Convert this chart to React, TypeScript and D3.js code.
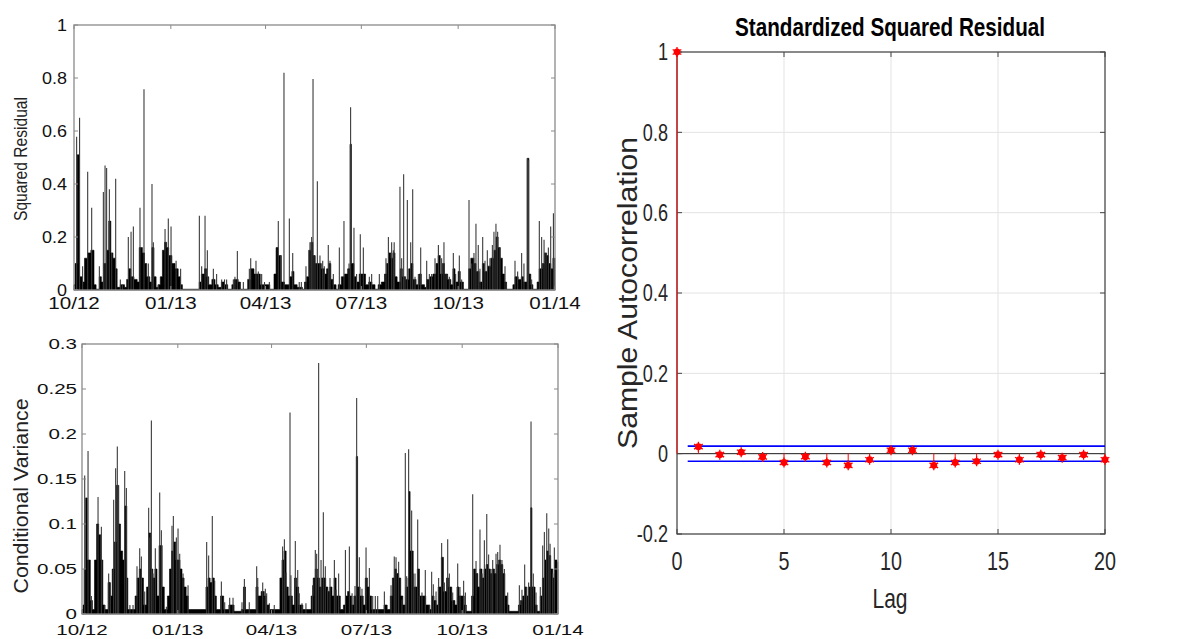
import React from 'react';
import * as d3 from 'd3';

type Pt = [number, number];

const START = new Date(2012, 9, 1);
const END = new Date(2014, 0, 1);
const quarterTicks = [
  new Date(2012, 9, 1), new Date(2013, 0, 1), new Date(2013, 3, 1),
  new Date(2013, 6, 1), new Date(2013, 9, 1), new Date(2014, 0, 1),
];

const sqResidTicks = [0, 0.2, 0.4, 0.6, 0.8, 1];
const sqResidTickLabels = ['0', '0.2', '0.4', '0.6', '0.8', '1'];
const condVarTicks = [0, 0.05, 0.1, 0.15, 0.2, 0.25, 0.3];
const condVarTickLabels = ['0', '0.05', '0.1', '0.15', '0.2', '0.25', '0.3'];

// dense "body" of the squared residual series: [day since 2012-10-01, value]
const sqResidBody: Pt[] = [
  [0, 0.02], [1, 0.1], [3, 0.51], [5, 0.05], [8, 0.03], [10, 0.12], [13, 0.14], [16, 0.15], [19, 0.02], [21, 0.003],
  [24, 0.05], [26, 0.03], [28, 0.1], [31, 0.15], [33, 0.26], [35, 0.14], [37, 0.12], [39, 0.08], [41, 0.01], [44, 0.02],
  [48, 0.01], [50, 0.04], [52, 0.08], [54, 0.05], [57, 0.04], [60, 0.03], [62, 0.16], [65, 0.14], [67, 0.1], [69, 0.05],
  [72, 0.03], [74, 0.16], [76, 0.05], [78, 0.01], [80, 0.02], [82, 0.05], [84, 0.15], [86, 0.18], [88, 0.16], [90, 0.13],
  [93, 0.1], [96, 0.08], [99, 0.05], [101, 0.02], [103, 0.003], [119, 0.03], [121, 0.06], [124, 0.08], [126, 0.05], [128, 0.02],
  [131, 0.04], [134, 0.02], [137, 0.01], [140, 0.03], [143, 0.02], [146, 0.003], [150, 0.02], [152, 0.04], [156, 0.03], [158, 0.003],
  [165, 0.04], [168, 0.08], [171, 0.06], [174, 0.06], [177, 0.02], [180, 0.02], [186, 0.003], [190, 0.06], [192, 0.16], [194, 0.13],
  [197, 0.03], [200, 0.02], [203, 0.02], [205, 0.05], [207, 0.07], [209, 0.02], [212, 0.01], [217, 0.003], [219, 0.03], [221, 0.05],
  [223, 0.15], [225, 0.18], [227, 0.13], [229, 0.1], [232, 0.1], [235, 0.08], [238, 0.06], [240, 0.08], [242, 0.1], [244, 0.04],
  [246, 0.02], [249, 0.003], [251, 0.02], [254, 0.05], [257, 0.06], [260, 0.08], [262.2, 0.55], [263.6, 0.1], [266, 0.05], [268, 0.03],
  [271, 0.06], [274, 0.06], [277, 0.02], [280, 0.03], [283, 0.02], [286, 0.003], [289, 0.02], [292, 0.03], [295, 0.06], [297, 0.1],
  [299, 0.14], [301, 0.12], [303, 0.14], [305, 0.05], [307, 0.03], [310, 0.08], [312, 0.05], [315, 0.04], [318, 0.08], [320, 0.1],
  [322, 0.04], [325, 0.02], [328, 0.06], [330, 0.02], [333, 0.01], [335, 0.04], [338, 0.05], [341, 0.06], [344, 0.1], [346, 0.13],
  [348, 0.06], [350, 0.1], [352, 0.06], [355, 0.04], [358, 0.02], [360, 0.08], [362, 0.03], [365, 0.07], [367, 0.03], [370, 0.003],
  [375, 0.08], [377, 0.12], [380, 0.1], [382, 0.07], [385, 0.03], [388, 0.1], [390, 0.07], [393, 0.09], [396, 0.12], [399, 0.15],
  [401, 0.2], [403, 0.16], [405, 0.12], [407, 0.06], [409, 0.03], [411, 0.003], [417, 0.02], [419, 0.05], [422, 0.04], [425, 0.05],
  [427, 0.03], [430.6, 0.497], [432.2, 0.06], [434, 0.02], [436, 0.003], [440, 0.03], [442, 0.08], [445, 0.1], [447, 0.14], [449, 0.13],
  [451, 0.1], [453, 0.08], [455, 0.12], [457, 0.12],
];

// isolated spikes of the squared residual series
const sqResidSpikes: Pt[] = [
  [2.5, 0.578], [5.3, 0.65], [8.2, 0.09], [13, 0.446], [16.8, 0.31], [24.1, 0.09], [27.9, 0.37], [29.5, 0.47], [31, 0.46], [33.6, 0.38],
  [35.8, 0.14], [39.6, 0.42], [44, 0.04], [46, 0.02], [51.6, 0.2], [54.2, 0.22], [56.4, 0.24], [62.7, 0.31], [66.5, 0.758], [70.6, 0.1],
  [74.1, 0.4], [75.4, 0.18], [80, 0.02], [86.5, 0.23], [89.6, 0.27], [92.2, 0.24], [97, 0.11], [101.3, 0.08], [119.1, 0.28], [121.3, 0.09],
  [124.5, 0.28], [126.7, 0.15], [132.4, 0.08], [135.5, 0.06], [140.3, 0.04], [143, 0.04], [145, 0.04], [151.4, 0.04], [152.9, 0.05], [155.2, 0.147],
  [158, 0.03], [160.9, 0.03], [166.6, 0.08], [167.9, 0.12], [172.9, 0.11], [175.1, 0.07], [178.3, 0.06], [181, 0.03], [185.6, 0.03], [194.1, 0.26],
  [196.4, 0.13], [199.5, 0.82], [204.6, 0.27], [207.8, 0.14], [214, 0.03], [216, 0.03], [220.4, 0.09], [224.2, 0.18], [225.8, 0.2], [227.1, 0.796],
  [229, 0.13], [231.2, 0.41], [233.7, 0.13], [236.3, 0.11], [237.8, 0.09], [241.6, 0.17], [243.2, 0.11], [246.4, 0.06], [252.1, 0.16], [256.5, 0.26],
  [261.3, 0.1], [262.8, 0.69], [266, 0.235], [268.5, 0.06], [272, 0.21], [274.9, 0.16], [280.6, 0.05], [282.8, 0.06], [290.1, 0.06], [296.4, 0.12],
  [298.7, 0.2], [301.8, 0.18], [303.4, 0.15], [304.2, 0.18], [309.7, 0.39], [311.3, 0.12], [313.2, 0.437], [314.5, 0.05], [316.7, 0.34], [319.9, 0.18],
  [321.8, 0.38], [324, 0.05], [327.2, 0.06], [329.4, 0.16], [335.1, 0.11], [337.6, 0.06], [339.8, 0.06], [343, 0.12], [346.2, 0.17], [349.3, 0.12],
  [351.5, 0.18], [353.5, 0.06], [356.6, 0.05], [360.4, 0.14], [362.6, 0.06], [366.1, 0.13], [368.3, 0.04], [375.3, 0.34], [377.8, 0.1], [380, 0.14],
  [381.9, 0.25], [384.1, 0.17], [385.7, 0.08], [388.3, 0.2], [390.5, 0.11], [392.7, 0.15], [395.2, 0.12], [397.5, 0.17], [399, 0.22], [400.9, 0.25],
  [402.5, 0.22], [404.7, 0.16], [409.5, 0.09], [419, 0.11], [421.5, 0.07], [425.3, 0.14], [427.5, 0.1], [430.7, 0.497], [431.9, 0.49], [434.8, 0.04],
  [442.1, 0.26], [444.3, 0.2], [446.6, 0.19], [448.5, 0.14], [450.7, 0.16], [452.9, 0.24], [455.5, 0.29],
];

// dense "body" of the conditional variance series
const condVarBody: Pt[] = [
  [0, 0.005], [1, 0.01], [2, 0.05], [3.5, 0.129], [5, 0.06], [8, 0.015], [10, 0.005], [12, 0.06], [14, 0.1], [16, 0.088],
  [18, 0.06], [20, 0.01], [22, 0.005], [25, 0.035], [27, 0.02], [29, 0.05], [31, 0.08], [33, 0.143], [35, 0.1], [37, 0.07],
  [39, 0.06], [41, 0.12], [43, 0.04], [44, 0.005], [51, 0.02], [53, 0.04], [55, 0.05], [57, 0.04], [59, 0.01], [62, 0.03],
  [64, 0.09], [66, 0.05], [68, 0.04], [70, 0.05], [72, 0.02], [74, 0.076], [77, 0.03], [79, 0.005], [82, 0.02], [84, 0.05],
  [86, 0.07], [88, 0.08], [90, 0.06], [92, 0.06], [94, 0.05], [96, 0.04], [98, 0.03], [100, 0.02], [102, 0.005], [119, 0.03],
  [121, 0.04], [123, 0.035], [125, 0.04], [127, 0.02], [129, 0.005], [133, 0.02], [136, 0.005], [141, 0.01], [143, 0.01], [146, 0.003],
  [153, 0.005], [155, 0.03], [157, 0.005], [167, 0.03], [169, 0.02], [172, 0.025], [175, 0.02], [177, 0.01], [180, 0.005], [190, 0.04],
  [192, 0.06], [194, 0.07], [196, 0.03], [198, 0.02], [200, 0.02], [202, 0.01], [204, 0.04], [206, 0.03], [208, 0.01], [212, 0.005],
  [220, 0.02], [222, 0.04], [224, 0.05], [226, 0.04], [228, 0.03], [230, 0.04], [232, 0.04], [234, 0.03], [236, 0.025], [238, 0.03],
  [240, 0.02], [242, 0.04], [244, 0.02], [246, 0.02], [248, 0.005], [251, 0.01], [253, 0.02], [255, 0.025], [257, 0.02], [259, 0.01],
  [261, 0.02], [263.3, 0.175], [264.6, 0.03], [267, 0.02], [270, 0.01], [272, 0.04], [274, 0.03], [276, 0.02], [278, 0.005], [290, 0.01],
  [293, 0.005], [296, 0.02], [298, 0.04], [300, 0.05], [302, 0.045], [304, 0.04], [306, 0.02], [308, 0.01], [311, 0.03], [313, 0.04],
  [313.8, 0.136], [315, 0.07], [318, 0.03], [320, 0.03], [322, 0.05], [324, 0.02], [327, 0.02], [330, 0.01], [334, 0.005], [336, 0.02],
  [338, 0.015], [340, 0.01], [342, 0.03], [345, 0.063], [347, 0.025], [350, 0.04], [352, 0.03], [355, 0.015], [358, 0.01], [360, 0.03],
  [362, 0.02], [365, 0.02], [367, 0.01], [369, 0.003], [374, 0.02], [376, 0.05], [378, 0.045], [380, 0.03], [382, 0.05], [384, 0.04],
  [386, 0.05], [388, 0.055], [390, 0.05], [392, 0.045], [394, 0.05], [396, 0.045], [398, 0.055], [400, 0.06], [402, 0.055], [404, 0.045],
  [406, 0.02], [408, 0.01], [410, 0.003], [419, 0.01], [421, 0.015], [423, 0.02], [425, 0.03], [427, 0.02], [429, 0.03], [430.8, 0.118],
  [432, 0.03], [435, 0.01], [437, 0.003], [440, 0.02], [442, 0.04], [444, 0.06], [446, 0.07], [448, 0.065], [450, 0.05], [452, 0.04],
  [454, 0.06], [456, 0.05], [457, 0.05],
];

// isolated spikes of the conditional variance series
const condVarSpikes: Pt[] = [
  [2.6, 0.154], [5.8, 0.181], [9, 0.02], [15.4, 0.13], [18.6, 0.097], [21.8, 0.01], [25.6, 0.045], [27.2, 0.035], [30.4, 0.127], [32.3, 0.162],
  [33.9, 0.186], [35.2, 0.143], [41, 0.159], [42.6, 0.14], [46, 0.01], [49, 0.01], [52.8, 0.053], [55.4, 0.073], [57, 0.064], [60.2, 0.025],
  [64, 0.118], [65, 0.085], [66.6, 0.215], [68.2, 0.045], [70.4, 0.073], [74.6, 0.135], [76.2, 0.093], [81, 0.008], [86.4, 0.098], [87.7, 0.109],
  [90.6, 0.085], [92.2, 0.095], [93.8, 0.067], [97, 0.045], [101.8, 0.032], [119.7, 0.08], [121.6, 0.065], [125.1, 0.109], [127.4, 0.037], [133.8, 0.036],
  [137, 0.013], [141.8, 0.018], [145, 0.018], [153.6, 0.013], [155.9, 0.039], [160.6, 0.013], [167.7, 0.053], [168.7, 0.04], [173.5, 0.035], [176, 0.028],
  [177.3, 0.023], [179.9, 0.012], [184.6, 0.01], [192.6, 0.075], [194.3, 0.083], [195.9, 0.046], [199.7, 0.224], [200.6, 0.043], [204.8, 0.081], [207.1, 0.049],
  [208.6, 0.023], [211.2, 0.012], [215, 0.012], [221.4, 0.032], [224, 0.071], [225.3, 0.067], [227.2, 0.279], [229.5, 0.06], [231.7, 0.113], [233.6, 0.053],
  [235.9, 0.027], [238.1, 0.04], [242.3, 0.06], [243.9, 0.027], [246.4, 0.045], [252.9, 0.071], [256.7, 0.075], [259.3, 0.023], [262.1, 0.031], [263.7, 0.24],
  [266.3, 0.063], [268.8, 0.028], [272.7, 0.074], [275.9, 0.051], [279.1, 0.02], [281.6, 0.02], [283.9, 0.02], [290.3, 0.025], [296.7, 0.032], [299.8, 0.064],
  [301.5, 0.063], [304, 0.058], [307.2, 0.016], [310.4, 0.179], [311.7, 0.042], [313.6, 0.183], [316.5, 0.115], [318.1, 0.045], [319.7, 0.045], [322.3, 0.105],
  [323.9, 0.02], [326.4, 0.024], [329.6, 0.049], [333.5, 0.01], [335.7, 0.047], [337.3, 0.033], [339.9, 0.025], [342.4, 0.04], [345.3, 0.079], [347.9, 0.035],
  [351.1, 0.083], [352.7, 0.045], [355.9, 0.024], [360.7, 0.056], [362.9, 0.03], [366.4, 0.037], [368.1, 0.024], [375.1, 0.133], [378.3, 0.059], [382.1, 0.094],
  [384.1, 0.045], [386.3, 0.082], [388.6, 0.111], [390.4, 0.066], [392.7, 0.05], [394.3, 0.06], [397.5, 0.067], [399.1, 0.069], [401.3, 0.077], [403.2, 0.06],
  [405.5, 0.05], [408.7, 0.024], [419.9, 0.032], [422.4, 0.027], [425, 0.055], [426.9, 0.03], [428.8, 0.035], [431.1, 0.214], [433.3, 0.045], [435.9, 0.024],
  [440, 0.03], [442.3, 0.076], [443.9, 0.091], [446.2, 0.112], [448.1, 0.095], [449.4, 0.078], [451.9, 0.045], [453.5, 0.074], [456.7, 0.058],
];

// sample autocorrelation of standardized squared residuals
const acfLags = [0, 1, 2, 3, 4, 5, 6, 7, 8, 9, 10, 11, 12, 13, 14, 15, 16, 17, 18, 19, 20];
const acfValues = [1, 0.0174, -0.0025, 0.0035, -0.008, -0.022, -0.0075, -0.022, -0.029, -0.015, 0.0085,
  0.0085, -0.029, -0.022, -0.019, -0.0025, -0.015, -0.0025, -0.01, -0.0025, -0.015];
const acfBound = 0.0187;
const acfYTicks = [-0.2, 0, 0.2, 0.4, 0.6, 0.8, 1];
const acfYTickLabels = ['-0.2', '0', '0.2', '0.4', '0.6', '0.8', '1'];
const acfXTicks = [0, 5, 10, 15, 20];

const FONT = "'Liberation Sans', Arial, Helvetica, sans-serif";
const DAY_MS = 86400000;
const dayToDate = (d: number) => new Date(START.getTime() + d * DAY_MS);

interface SeriesProps {
  left: number; right: number; top: number; bottom: number;
  yMax: number; yTicks: number[]; yTickLabels: string[];
  body: Pt[]; spikes: Pt[];
  title: string; titleX: number; titleY: number; titleSize: number; titleLength: number;
  tickFs: number; ySx: number; xSx: number; yLabelRight: number; xLabelBase: number;
}

function SeriesPanel(p: SeriesProps) {
  const x = d3.scaleTime().domain([START, END]).range([p.left, p.right]);
  const y = d3.scaleLinear().domain([0, p.yMax]).range([p.bottom, p.top]);
  const area = d3.area<Pt>()
    .x(d => x(dayToDate(d[0])))
    .y0(p.bottom)
    .y1(d => y(d[1]))
    .curve(d3.curveStepAfter);
  const fmt = d3.timeFormat('%m/%y');
  const axisColor = '#8a8a8a';
  return (
    <g>
      <path d={area(p.body) || ''} fill="#000" stroke="#000" strokeWidth={0.6} />
      {p.spikes.map(([d, v], i) => (
        <line key={i} x1={x(dayToDate(d))} x2={x(dayToDate(d))} y1={p.bottom} y2={y(v)}
          stroke="#3a3a3a" strokeWidth={1.1} />
      ))}
      <rect x={p.left} y={p.top} width={p.right - p.left} height={p.bottom - p.top}
        fill="none" stroke={axisColor} strokeWidth={1.3} />
      {p.yTicks.map((t, i) => (
        <g key={'y' + i}>
          <line x1={p.left} x2={p.left + 4} y1={y(t)} y2={y(t)} stroke={axisColor} />
          <line x1={p.right - 4} x2={p.right} y1={y(t)} y2={y(t)} stroke={axisColor} />
          <text transform={`translate(${p.yLabelRight},${y(t) + p.tickFs * 0.36}) scale(${p.ySx},1)`}
            textAnchor="end" fontSize={p.tickFs} fontFamily={FONT} fill="#111">{p.yTickLabels[i]}</text>
        </g>
      ))}
      {quarterTicks.map((t, i) => (
        <g key={'x' + i}>
          <line x1={x(t)} x2={x(t)} y1={p.top} y2={p.top + 4} stroke={axisColor} />
          <line x1={x(t)} x2={x(t)} y1={p.bottom - 4} y2={p.bottom} stroke={axisColor} />
          <text transform={`translate(${x(t)},${p.xLabelBase}) scale(${p.xSx},1)`}
            textAnchor="middle" fontSize={p.tickFs} fontFamily={FONT} fill="#111">{fmt(t)}</text>
        </g>
      ))}
      <text transform={`translate(${p.titleX},${p.titleY}) rotate(-90)`} textAnchor="middle"
        dominantBaseline="central" fontSize={p.titleSize} fontFamily={FONT} fill="#222"
        textLength={p.titleLength} lengthAdjust="spacingAndGlyphs">{p.title}</text>
    </g>
  );
}

function AcfPanel() {
  const left = 677, right = 1105, top = 52, bottom = 534;
  const x = d3.scaleLinear().domain([0, 20]).range([left, right]);
  const y = d3.scaleLinear().domain([-0.2, 1]).range([bottom, top]);
  const axisColor = '#444';
  const gridColor = '#e3e3e3';
  const star = d3.symbol().type(d3.symbolAsterisk).size(70)() || '';
  const fsY = 23.5, fsX = 25;
  return (
    <g>
      {acfXTicks.map((t, i) => (
        <line key={'gx' + i} x1={x(t)} x2={x(t)} y1={top} y2={bottom} stroke={gridColor} />
      ))}
      {acfYTicks.map((t, i) => (
        <line key={'gy' + i} x1={left} x2={right} y1={y(t)} y2={y(t)} stroke={gridColor} />
      ))}
      <line x1={left} x2={right} y1={y(0)} y2={y(0)} stroke="#222" strokeWidth={1} />
      <rect x={left} y={top} width={right - left} height={bottom - top} fill="none" stroke={axisColor} strokeWidth={1.2} />
      {acfYTicks.map((t, i) => (
        <g key={'ty' + i}>
          <line x1={left} x2={left + 5} y1={y(t)} y2={y(t)} stroke={axisColor} />
          <line x1={right - 5} x2={right} y1={y(t)} y2={y(t)} stroke={axisColor} />
          <text transform={`translate(668,${y(t) + fsY * 0.36}) scale(0.77,1)`} textAnchor="end"
            fontSize={fsY} fontFamily={FONT} fill="#262626">{acfYTickLabels[i]}</text>
        </g>
      ))}
      {acfXTicks.map((t, i) => (
        <g key={'tx' + i}>
          <line x1={x(t)} x2={x(t)} y1={top} y2={top + 5} stroke={axisColor} />
          <line x1={x(t)} x2={x(t)} y1={bottom - 5} y2={bottom} stroke={axisColor} />
          <text transform={`translate(${x(t)},570) scale(0.79,1)`} textAnchor="middle"
            fontSize={fsX} fontFamily={FONT} fill="#262626">{String(t)}</text>
        </g>
      ))}
      {[acfBound, -acfBound].map((b, i) => (
        <line key={'b' + i} x1={x(0.5)} x2={x(20)} y1={y(b)} y2={y(b)} stroke="#0000ff" strokeWidth={1.6} />
      ))}
      {acfLags.map((l, i) => (
        <line key={'s' + i} x1={x(l)} x2={x(l)} y1={y(0)} y2={y(acfValues[i])} stroke="#ff0000" strokeWidth={1} />
      ))}
      {acfLags.map((l, i) => (
        <g key={'m' + i} transform={`translate(${x(l)},${y(acfValues[i])})`}>
          <circle r={3.4} fill="#ff0000" />
          <path d={star} fill="none" stroke="#ff0000" strokeWidth={1.3} />
        </g>
      ))}
      <text x={890} y={36} textAnchor="middle" fontSize={26} fontWeight="bold" fontFamily={FONT}
        fill="#000" textLength={310} lengthAdjust="spacingAndGlyphs">Standardized Squared Residual</text>
      <text transform="translate(890,608) scale(0.75,1)" textAnchor="middle" fontSize={28}
        fontFamily={FONT} fill="#262626">Lag</text>
      <text transform="translate(628,293) rotate(-90)" textAnchor="middle" dominantBaseline="central"
        fontSize={27} fontFamily={FONT} fill="#262626" textLength={312}
        lengthAdjust="spacingAndGlyphs">Sample Autocorrelation</text>
    </g>
  );
}

export default function App() {
  return (
    <svg width={1194} height={639} style={{ position: 'absolute', left: 0, top: 0, background: '#fff' }}>
      <rect x={0} y={0} width={1194} height={639} fill="#fff" />
      <SeriesPanel left={74} right={555} top={25} bottom={290} yMax={1}
        yTicks={sqResidTicks} yTickLabels={sqResidTickLabels}
        body={sqResidBody} spikes={sqResidSpikes}
        title="Squared Residual" titleX={20} titleY={159} titleSize={19} titleLength={124}
        tickFs={16.5} ySx={1.09} xSx={1.25} yLabelRight={67} xLabelBase={309} />
      <SeriesPanel left={82} right={558} top={344} bottom={614} yMax={0.3}
        yTicks={condVarTicks} yTickLabels={condVarTickLabels}
        body={condVarBody} spikes={condVarSpikes}
        title="Conditional Variance" titleX={20} titleY={496} titleSize={21} titleLength={195}
        tickFs={15} ySx={1.37} xSx={1.37} yLabelRight={77} xLabelBase={635} />
      <AcfPanel />
    </svg>
  );
}
